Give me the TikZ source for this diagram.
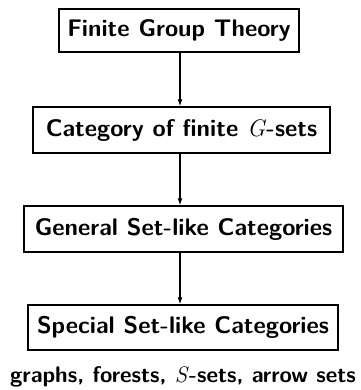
\documentclass[tikz,border=0pt]{standalone}
\usepackage{fontspec}
\usetikzlibrary{arrows.meta,shadows}
\newcommand{\mvar}[1]{{\rmfamily\mdseries\itshape #1\/}}
\begin{document}
\begin{tikzpicture}[x=1pt,y=-1pt,
  txt/.style={font=\fontsize{24}{28}\selectfont\sffamily\bfseries},
  box/.style={txt,draw,line width=1.4pt,fill=white,inner sep=0pt,
    drop shadow={shadow xshift=1.2pt,shadow yshift=-1.2pt,fill=black,opacity=1}},
  conn/.style={line width=1.3pt,-{Latex[length=7pt,width=5pt]}}]
\useasboundingbox (0,0) rectangle (360,390);
\node[box,minimum width=240pt,minimum height=43pt] (a) at (179,30.5) {Finite Group Theory};
\node[box,minimum width=297pt,minimum height=46pt] (b) at (181.5,130) {Category of finite \mvar{G}-sets};
\node[box,minimum width=319pt,minimum height=46pt] (c) at (183.5,229) {General Set-like Categories};
\node[box,minimum width=310pt,minimum height=45pt] (d) at (183,327.5) {Special Set-like Categories};
\node[txt,font=\fontsize{22.5}{26}\selectfont\sffamily\bfseries,inner sep=0pt] (e) at (183,377) {graphs, forests, \mvar{S}-sets, arrow sets};
\draw[conn] (a.south -| 180,0) -- (b.north -| 180,0);
\draw[conn] (b.south -| 180,0) -- (c.north -| 180,0);
\draw[conn] (c.south -| 180,0) -- (d.north -| 180,0);
\end{tikzpicture}
\end{document}
